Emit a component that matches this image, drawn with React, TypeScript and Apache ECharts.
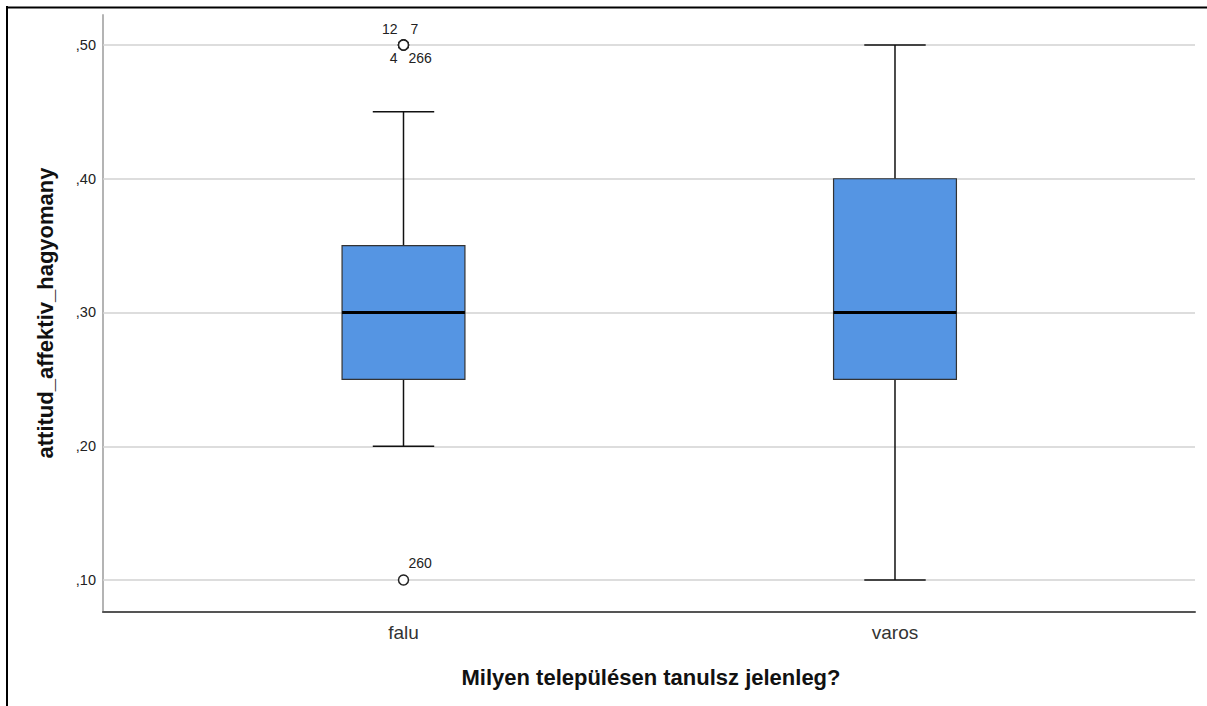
import React, { useEffect, useRef } from "react";
import * as echarts from "echarts";

const categories = ["falu", "varos"];
const whiskerLow = [0.2, 0.1];
const q1 = [0.25, 0.25];
const median = [0.3, 0.3];
const q3 = [0.35, 0.4];
const whiskerHigh = [0.45, 0.5];

const outlierCategory = [0, 0, 0, 0, 0];
const outlierValue = [0.5, 0.5, 0.5, 0.5, 0.1];
const outlierCase = ["12", "7", "4", "266", "260"];

const yTickValues = [0.1, 0.2, 0.3, 0.4, 0.5];

const xTitle = "Milyen településen tanulsz jelenleg?";
const yTitle = "attitud_affektiv_hagyomany";

// label placement for each case id (style only)
const labelPlacement: Record<string, { offset: number[]; align: string }> = {
  "12": { offset: [-6, -16], align: "right" },
  "7": { offset: [7, -16], align: "left" },
  "4": { offset: [-6, 13], align: "right" },
  "266": { offset: [5, 13], align: "left" },
  "260": { offset: [5, -17], align: "left" },
};

const FONT = "'Liberation Sans', Arial, sans-serif";

export default function App() {
  const ref = useRef<HTMLDivElement>(null);
  useEffect(() => {
    if (!ref.current) return;
    const chart = echarts.init(ref.current, null, { renderer: "svg" });
    const boxData = categories.map((_, i) => [
      i,
      whiskerLow[i],
      q1[i],
      median[i],
      q3[i],
      whiskerHigh[i],
    ]);
    const outlierData = outlierCase.map((id, i) => ({
      value: [outlierCategory[i], outlierValue[i]],
      label: {
        show: true,
        formatter: id,
        position: "inside",
        offset: labelPlacement[id].offset,
        align: labelPlacement[id].align,
        verticalAlign: "middle",
      },
    }));
    chart.setOption({
      animation: false,
      grid: { left: 103, right: 12, top: 15, bottom: 94, containLabel: false },
      xAxis: {
        type: "value",
        min: -0.6114,
        max: 1.6104,
        axisLine: { show: true, onZero: false, lineStyle: { color: "#555", width: 2 } },
        axisTick: { show: false },
        splitLine: { show: false },
        axisLabel: {
          customValues: [0, 1],
          formatter: (v: number) => categories[Math.round(v)] ?? "",
          color: "#333",
          fontFamily: FONT,
          fontSize: 19,
          margin: 11,
        },
      },
      yAxis: {
        type: "value",
        min: 0.0761,
        max: 0.5224,
        axisLine: { show: true, onZero: false, lineStyle: { color: "#b4b4b4", width: 2 } },
        axisTick: { show: false },
        splitLine: { show: false },
        axisLabel: {
          customValues: yTickValues,
          formatter: (v: number) => "," + Math.round(v * 100).toString().padStart(2, "0"),
          color: "#222",
          fontFamily: FONT,
          fontSize: 14.5,
          margin: 7,
        },
      },
      series: [
        {
          type: "custom",
          z: 2,
          data: boxData,
          encode: { x: 0, y: [1, 2, 3, 4, 5] },
          renderItem: (params: any, api: any) => {
            const x = api.value(0);
            const pLo = api.coord([x, api.value(1)]);
            const pQ1 = api.coord([x, api.value(2)]);
            const pMed = api.coord([x, api.value(3)]);
            const pQ3 = api.coord([x, api.value(4)]);
            const pHi = api.coord([x, api.value(5)]);
            const unit = api.size([1, 0])[0];
            const boxW = unit * 0.25;
            const capW = unit * 0.125;
            const cx = pMed[0];
            const whisk = { stroke: "#111", lineWidth: 1.5 };
            return {
              type: "group",
              children: [
                { type: "line", shape: { x1: cx, y1: pLo[1], x2: cx, y2: pQ1[1] }, style: whisk },
                { type: "line", shape: { x1: cx, y1: pQ3[1], x2: cx, y2: pHi[1] }, style: whisk },
                { type: "line", shape: { x1: cx - capW / 2, y1: pLo[1], x2: cx + capW / 2, y2: pLo[1] }, style: whisk },
                { type: "line", shape: { x1: cx - capW / 2, y1: pHi[1], x2: cx + capW / 2, y2: pHi[1] }, style: whisk },
                {
                  type: "rect",
                  shape: { x: cx - boxW / 2, y: pQ3[1], width: boxW, height: pQ1[1] - pQ3[1] },
                  style: { fill: "#5595e3", stroke: "#333", lineWidth: 1.2 },
                },
                {
                  type: "line",
                  shape: { x1: cx - boxW / 2, y1: pMed[1], x2: cx + boxW / 2, y2: pMed[1] },
                  style: { stroke: "#000", lineWidth: 3 },
                },
              ],
            };
          },
        },
        {
          type: "scatter",
          z: 3,
          symbol: "circle",
          symbolSize: 10,
          itemStyle: { color: "#fff", borderColor: "#222", borderWidth: 1.5, opacity: 1 },
          label: { color: "#222", fontFamily: FONT, fontSize: 14 },
          data: outlierData,
          markLine: {
            silent: true,
            z: 1,
            symbol: ["none", "none"],
            label: { show: false },
            lineStyle: { color: "#d2d2d2", width: 1.5, type: "solid" },
            data: yTickValues.map((v) => ({ yAxis: v })),
          },
        },
      ],
      graphic: [
        {
          type: "text",
          x: 651,
          y: 677,
          style: {
            text: xTitle,
            fill: "#111",
            font: `bold 22px ${FONT}`,
            textAlign: "center",
            textVerticalAlign: "middle",
          },
        },
        {
          type: "text",
          x: 45,
          y: 313,
          rotation: Math.PI / 2,
          style: {
            text: yTitle,
            fill: "#111",
            font: `bold 22px ${FONT}`,
            textAlign: "center",
            textVerticalAlign: "middle",
          },
        },
        {
          type: "line",
          shape: { x1: 7, y1: 6, x2: 7, y2: 706 },
          style: { stroke: "#000", lineWidth: 2 },
        },
        {
          type: "line",
          shape: { x1: 6, y1: 7.5, x2: 1207, y2: 7.5 },
          style: { stroke: "#000", lineWidth: 2 },
        },
      ],
    });
    return () => chart.dispose();
  }, []);
  return (
    <div
      ref={ref}
      style={{ position: "fixed", left: 0, top: 0, width: 1207, height: 706, background: "#fff" }}
    />
  );
}
